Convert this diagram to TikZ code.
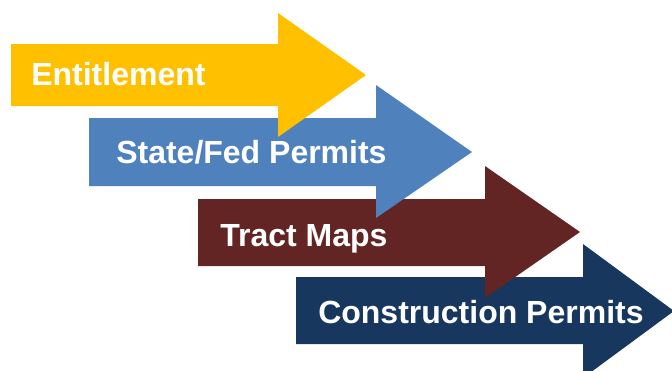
\documentclass[tikz,border=0pt]{standalone}
\usepackage{fontspec}
\setmainfont{Liberation Sans}
\definecolor{entgold}{HTML}{FFC000}
\definecolor{fedblue}{HTML}{4F81BD}
\definecolor{tractred}{HTML}{632523}
\definecolor{constnavy}{HTML}{17375E}
\tikzstyle{arrowtext}=[anchor=base west,inner sep=0pt,text=white,font=\fontsize{24}{28}\selectfont\bfseries]

\begin{document}
\begin{tikzpicture}[x=0.75pt,y=-0.75pt]
\useasboundingbox (0,0) rectangle (672,371);

\fill[constnavy] (296,277) -- (583,277) -- (583,244) -- (674,311) -- (583,378) -- (583,344) -- (296,344) -- cycle;
\node[arrowtext] (cp) at (318,323) {Construction Permits};

\fill[tractred] (198,199) -- (485,199) -- (485,166) -- (580,232) -- (485,298) -- (485,266) -- (198,266) -- cycle;
\node[arrowtext] (tm) at (220,246) {Tract Maps};

\fill[fedblue] (89,118) -- (376,118) -- (376,85) -- (472,152) -- (376,218) -- (376,186) -- (89,186) -- cycle;
\node[arrowtext] (sf) at (116,163) {State/Fed Permits};

\fill[entgold] (11,44) -- (278,44) -- (278,13) -- (366,75) -- (278,137) -- (278,106) -- (11,106) -- cycle;
\node[arrowtext] (en) at (31,85) {Entitlement};

\end{tikzpicture}
\end{document}
